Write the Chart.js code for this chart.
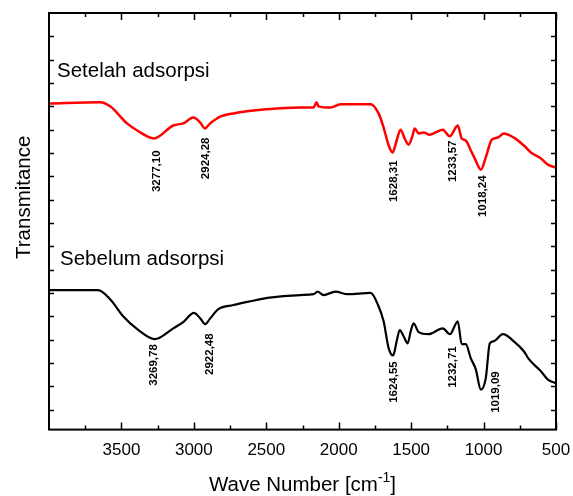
<!DOCTYPE html>
<html>
<head>
<meta charset="utf-8">
<script src="https://cdn.jsdelivr.net/npm/chart.js@4.4.0/dist/chart.umd.min.js"></script>
<style>
    html, body { margin: 0; padding: 0; background: #fff; }
</style>
</head>
<body>
<canvas id="ftirChart" width="573" height="496"></canvas>
<script>
// Axis ticks (cm-1)
const xTickLabels = [3500, 3000, 2500, 2000, 1500, 1000, 500];
const xMinorTicks = [3750, 3250, 2750, 2250, 1750, 1250, 750];

// Setelah adsorpsi (red)
const setelahWave = [4000, 3647, 3578, 3461, 3391, 3277, 3142, 3073, 3004, 2956, 2924, 2887, 2831, 2727, 2492, 2264, 2174, 2153, 2140, 2057, 1987, 1780, 1725, 1690, 1655, 1628, 1600, 1573, 1545, 1517, 1490, 1476, 1448, 1413, 1372, 1282, 1233, 1178, 1151, 1123, 1088, 1061, 1018, 985, 943, 902, 860, 791, 722, 673, 604, 556, 500];
const setelahT = [78.3, 78.6, 77.6, 73.5, 71.8, 69.9, 73.0, 73.5, 74.9, 73.7, 72.3, 73.5, 74.9, 75.9, 76.9, 77.3, 77.3, 78.6, 77.6, 77.3, 78.1, 78.1, 75.9, 72.5, 68.2, 66.5, 69.4, 72.0, 69.9, 68.4, 70.6, 72.3, 71.1, 71.3, 70.8, 72.0, 70.4, 73.0, 69.9, 69.4, 67.0, 65.1, 62.4, 65.3, 69.6, 70.1, 71.1, 70.1, 68.2, 66.5, 65.1, 63.6, 62.9];

// Sebelum adsorpsi (black)
const sebelumWave = [4000, 3660, 3578, 3488, 3391, 3270, 3142, 3073, 3000, 2956, 2922, 2887, 2831, 2727, 2610, 2492, 2264, 2174, 2146, 2105, 2022, 1939, 1780, 1725, 1690, 1655, 1624, 1600, 1579, 1552, 1524, 1503, 1483, 1448, 1379, 1282, 1232, 1178, 1151, 1123, 1088, 1054, 1019, 985, 957, 929, 867, 791, 722, 687, 604, 556, 500];
const sebelumT = [33.5, 33.5, 31.3, 27.2, 24.1, 21.7, 24.3, 25.8, 28.0, 26.7, 25.3, 26.7, 28.9, 29.9, 30.8, 31.6, 32.3, 32.5, 33.1, 32.3, 33.1, 32.5, 32.8, 29.6, 26.0, 19.5, 17.8, 21.2, 23.9, 22.4, 20.7, 23.6, 25.5, 23.4, 22.9, 24.3, 22.9, 26.0, 20.5, 20.5, 17.1, 14.5, 9.6, 12.3, 20.7, 21.2, 22.9, 21.2, 18.8, 16.9, 14.0, 12.0, 11.1];

// Peak labels (text top anchored at wave / value)
const setelahPeakText = ['3277,10', '2924,28', '1628,31', '1233,57', '1018,24'];
const setelahPeakWave = [3253, 2914, 1621, 1213, 1005];
const setelahPeakT = [67.0, 70.1, 64.6, 69.4, 61.0];
const sebelumPeakText = ['3269,78', '2922,48', '1624,55', '1232,71', '1019,09'];
const sebelumPeakWave = [3274, 2893, 1621, 1213, 915];
const sebelumPeakT = [20.5, 23.1, 16.4, 20.0, 14.0];

// Series names written on the plot
const seriesNames = ['Setelah adsorpsi', 'Sebelum adsorpsi'];
const seriesNameWave = [3945, 3924];
const seriesNameT = [84.6, 39.5];

const FONT = '"Liberation Sans", Arial, sans-serif';

function toPoints(xs, ys) {
    return xs.map((x, i) => ({ x: x, y: ys[i] }));
}

// frame, inward ticks and annotations
const decorPlugin = {
    id: 'decor',
    afterDatasetsDraw(chart) {
        const ctx = chart.ctx;
        const area = chart.chartArea;
        const xs = chart.scales.x;
        const ys = chart.scales.y;
        ctx.save();

        // frame
        ctx.strokeStyle = '#000';
        ctx.lineWidth = 2;
        ctx.strokeRect(area.left, area.top, area.right - area.left, area.bottom - area.top);

        // x ticks, bottom and top
        ctx.lineWidth = 1.5;
        ctx.beginPath();
        xTickLabels.forEach(v => {
            const px = Math.round(xs.getPixelForValue(v)) + 0.5;
            ctx.moveTo(px, area.bottom); ctx.lineTo(px, area.bottom - 7);
            ctx.moveTo(px, area.top); ctx.lineTo(px, area.top + 7);
        });
        xMinorTicks.forEach(v => {
            const px = Math.round(xs.getPixelForValue(v)) + 0.5;
            ctx.moveTo(px, area.bottom); ctx.lineTo(px, area.bottom - 4);
            ctx.moveTo(px, area.top); ctx.lineTo(px, area.top + 4);
        });
        // y ticks, left and right (no labels on this axis)
        for (let v = ys.max - 5.6; v > ys.min; v -= 5.6) {
            const py = Math.round(ys.getPixelForValue(v)) + 0.5;
            ctx.moveTo(area.left, py); ctx.lineTo(area.left + 5, py);
            ctx.moveTo(area.right, py); ctx.lineTo(area.right - 5, py);
        }
        ctx.stroke();

        // series names
        ctx.fillStyle = '#000';
        ctx.font = '20.5px ' + FONT;
        ctx.textAlign = 'left';
        ctx.textBaseline = 'alphabetic';
        seriesNames.forEach((t, i) => {
            ctx.fillText(t, xs.getPixelForValue(seriesNameWave[i]), ys.getPixelForValue(seriesNameT[i]));
        });

        // peak labels, rotated
        ctx.font = 'bold 11.5px ' + FONT;
        ctx.textAlign = 'right';
        ctx.textBaseline = 'middle';
        const drawPeaks = (texts, waves, vals) => {
            texts.forEach((t, i) => {
                ctx.save();
                ctx.translate(xs.getPixelForValue(waves[i]), ys.getPixelForValue(vals[i]));
                ctx.rotate(-Math.PI / 2);
                ctx.fillText(t, 0, 0);
                ctx.restore();
            });
        };
        drawPeaks(setelahPeakText, setelahPeakWave, setelahPeakT);
        drawPeaks(sebelumPeakText, sebelumPeakWave, sebelumPeakT);

        // y axis title
        ctx.font = '20.5px ' + FONT;
        ctx.textAlign = 'center';
        ctx.textBaseline = 'alphabetic';
        ctx.save();
        ctx.translate(30, (area.top + area.bottom) / 2 - 24);
        ctx.rotate(-Math.PI / 2);
        ctx.fillText('Transmitance', 0, 0);
        ctx.restore();

        // x axis title with superscript
        const main = 'Wave Number [cm';
        const sup = '-1';
        const close = ']';
        ctx.font = '20.5px ' + FONT;
        const wMain = ctx.measureText(main).width;
        const wClose = ctx.measureText(close).width;
        ctx.font = '14px ' + FONT;
        const wSup = ctx.measureText(sup).width;
        const total = wMain + wSup + wClose;
        let tx = (area.left + area.right) / 2 - total / 2;
        const base = 491;
        ctx.textAlign = 'left';
        ctx.font = '20.5px ' + FONT;
        ctx.fillText(main, tx, base);
        ctx.font = '14px ' + FONT;
        ctx.fillText(sup, tx + wMain, base - 9);
        ctx.font = '20.5px ' + FONT;
        ctx.fillText(close, tx + wMain + wSup, base);

        ctx.restore();
    }
};

const ctx = document.getElementById('ftirChart').getContext('2d');

const ftirChart = new Chart(ctx, {
    type: 'line',
    data: {
        datasets: [{
            label: seriesNames[0],
            data: toPoints(setelahWave, setelahT),
            borderColor: '#ff0000',
            borderWidth: 2.5,
            pointRadius: 0,
            cubicInterpolationMode: 'monotone',
            fill: false
        }, {
            label: seriesNames[1],
            data: toPoints(sebelumWave, sebelumT),
            borderColor: '#000000',
            borderWidth: 2.2,
            pointRadius: 0,
            cubicInterpolationMode: 'monotone',
            fill: false
        }]
    },
    options: {
        responsive: false,
        animation: false,
        devicePixelRatio: 1,
        layout: {
            padding: { left: 49, right: 17, top: 13, bottom: 24 }
        },
        scales: {
            x: {
                type: 'linear',
                reverse: true,
                min: 500,
                max: 4000,
                afterBuildTicks: function (scale) {
                    scale.ticks = xTickLabels.map(v => ({ value: v }));
                },
                afterFit: function (scale) {
                    // labels may hang over the frame, like the original
                    scale.paddingLeft = 0;
                    scale.paddingRight = 0;
                },
                grid: { display: false, drawTicks: false },
                border: { display: false },
                ticks: {
                    autoSkip: false,
                    maxRotation: 0,
                    padding: 11,
                    color: '#000',
                    font: { family: FONT, size: 17 },
                    callback: value => String(value)
                }
            },
            y: {
                type: 'linear',
                min: 0,
                max: 100,
                display: false
            }
        },
        plugins: {
            legend: { display: false },
            tooltip: { enabled: false }
        }
    },
    plugins: [decorPlugin]
});
</script>
</body>
</html>
